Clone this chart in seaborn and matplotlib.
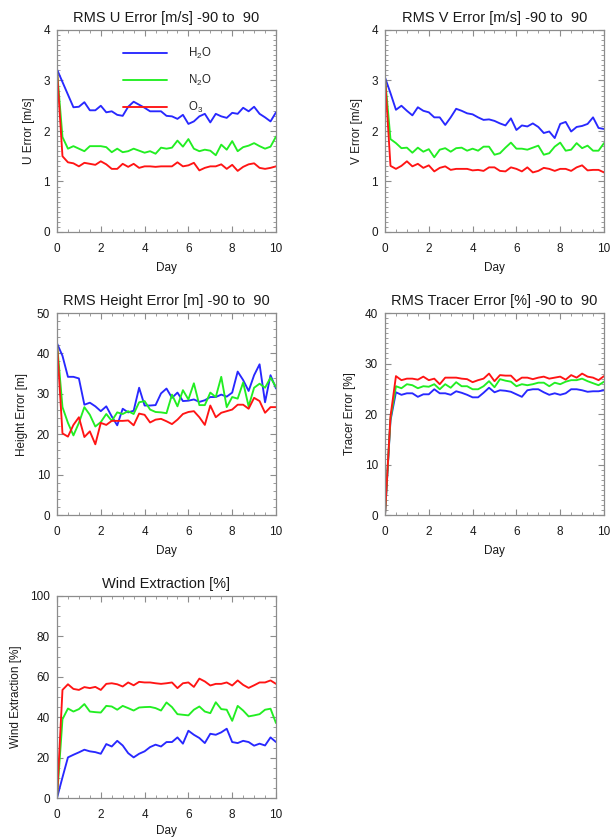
import numpy as np
import pandas as pd
import matplotlib
matplotlib.use("Agg")
import matplotlib.pyplot as plt
from matplotlib.ticker import MultipleLocator
import seaborn as sns

# ---------------- data ----------------
days = [0.0, 0.25, 0.5, 0.75, 1.0, 1.25, 1.5, 1.75, 2.0, 2.25, 2.5, 2.75, 3.0, 3.25,
        3.5, 3.75, 4.0, 4.25, 4.5, 4.75, 5.0, 5.25, 5.5, 5.75, 6.0, 6.25, 6.5, 6.75,
        7.0, 7.25, 7.5, 7.75, 8.0, 8.25, 8.5, 8.75, 9.0, 9.25, 9.5, 9.75, 10.0]

species = ["H2O", "N2O", "O3"]
species_labels = {"H2O": r"$\mathregular{H_2O}$", "N2O": r"$\mathregular{N_2O}$",
                  "O3": r"$\mathregular{O_3}$"}

u_h2o = [3.22, 2.97, 2.72, 2.47, 2.48, 2.57, 2.41, 2.41, 2.50, 2.37, 2.39, 2.32, 2.30, 2.48,
         2.58, 2.52, 2.46, 2.39, 2.39, 2.39, 2.30, 2.29, 2.24, 2.32, 2.14, 2.19, 2.29, 2.34,
         2.17, 2.34, 2.29, 2.26, 2.36, 2.34, 2.46, 2.39, 2.48, 2.34, 2.27, 2.19, 2.37]
u_n2o = [3.20, 1.88, 1.65, 1.70, 1.65, 1.60, 1.70, 1.70, 1.70, 1.68, 1.58, 1.65, 1.58, 1.60,
         1.65, 1.61, 1.57, 1.60, 1.55, 1.67, 1.65, 1.67, 1.81, 1.69, 1.84, 1.65, 1.60, 1.63,
         1.61, 1.52, 1.73, 1.63, 1.80, 1.60, 1.68, 1.71, 1.76, 1.70, 1.65, 1.69, 1.89]
u_o3 = [3.20, 1.50, 1.38, 1.36, 1.30, 1.37, 1.35, 1.33, 1.40, 1.34, 1.25, 1.25, 1.35, 1.29,
        1.35, 1.27, 1.30, 1.30, 1.29, 1.30, 1.30, 1.30, 1.38, 1.30, 1.32, 1.37, 1.22, 1.27,
        1.30, 1.30, 1.34, 1.25, 1.33, 1.21, 1.29, 1.34, 1.36, 1.27, 1.25, 1.27, 1.30]

v_h2o = [3.06, 2.75, 2.42, 2.50, 2.40, 2.31, 2.47, 2.40, 2.37, 2.27, 2.27, 2.12, 2.27, 2.44,
         2.40, 2.35, 2.33, 2.27, 2.22, 2.23, 2.20, 2.15, 2.11, 2.25, 2.02, 2.11, 2.09, 2.15,
         2.08, 1.96, 1.99, 1.86, 2.14, 2.18, 1.99, 2.08, 2.10, 2.14, 2.27, 2.06, 2.04]
v_n2o = [3.06, 1.84, 1.76, 1.66, 1.67, 1.57, 1.67, 1.59, 1.64, 1.48, 1.63, 1.66, 1.59, 1.66,
         1.67, 1.61, 1.65, 1.61, 1.69, 1.69, 1.53, 1.56, 1.67, 1.77, 1.65, 1.65, 1.63, 1.67,
         1.71, 1.53, 1.56, 1.69, 1.77, 1.61, 1.63, 1.76, 1.66, 1.71, 1.61, 1.61, 1.76]
v_o3 = [3.06, 1.31, 1.25, 1.31, 1.40, 1.30, 1.35, 1.27, 1.32, 1.20, 1.27, 1.30, 1.23, 1.25,
        1.25, 1.25, 1.22, 1.23, 1.21, 1.28, 1.28, 1.21, 1.20, 1.28, 1.25, 1.20, 1.28, 1.18,
        1.21, 1.27, 1.25, 1.21, 1.25, 1.25, 1.21, 1.28, 1.32, 1.22, 1.23, 1.23, 1.18]

h_h2o = [42.5, 39.4, 34.2, 34.2, 33.8, 27.3, 27.8, 26.9, 25.7, 26.9, 24.4, 22.2, 26.3, 25.4,
         25.8, 31.5, 27.1, 27.1, 27.2, 30.1, 31.3, 29.0, 30.3, 28.2, 28.3, 28.6, 28.0, 28.4,
         29.2, 29.2, 29.8, 29.3, 30.3, 35.5, 33.4, 30.7, 34.6, 37.3, 27.9, 34.6, 31.3]
h_n2o = [42.5, 26.7, 22.8, 19.7, 22.8, 26.7, 24.8, 21.9, 23.0, 25.0, 23.3, 25.4, 25.0, 25.7,
         25.0, 27.9, 28.2, 26.1, 25.5, 25.4, 25.2, 29.8, 26.9, 30.9, 28.6, 32.6, 27.2, 27.2,
         30.3, 29.2, 34.2, 26.7, 29.2, 28.8, 32.8, 26.9, 31.5, 32.5, 31.5, 34.0, 31.7]
h_o3 = [42.5, 20.2, 19.4, 22.3, 24.2, 19.3, 20.7, 17.5, 22.8, 22.3, 23.3, 23.3, 23.3, 23.4,
        22.2, 25.1, 24.8, 22.9, 23.6, 23.8, 23.2, 22.5, 23.6, 25.0, 25.5, 25.7, 24.2, 22.3,
        27.1, 24.2, 25.3, 25.7, 26.1, 27.3, 27.3, 26.3, 29.0, 28.2, 25.3, 26.7, 26.7]

t_h2o = [0.0, 18.7, 24.3, 23.8, 24.1, 24.1, 23.4, 23.9, 23.9, 24.9, 24.1, 24.1, 23.8, 24.5,
         24.2, 23.8, 23.3, 23.3, 24.2, 25.2, 24.3, 24.7, 24.6, 24.4, 23.9, 23.4, 24.7, 24.9,
         24.9, 24.3, 23.8, 24.1, 23.8, 24.1, 24.9, 24.9, 24.7, 24.4, 24.5, 24.5, 24.7]
t_n2o = [0.0, 19.0, 25.5, 25.1, 25.9, 25.7, 25.1, 25.5, 25.4, 25.9, 24.9, 25.9, 25.2, 26.3,
         25.5, 25.5, 24.9, 24.9, 25.5, 26.5, 25.3, 26.9, 26.6, 26.4, 25.5, 25.9, 25.7, 25.9,
         26.2, 26.2, 25.5, 26.2, 25.9, 26.4, 26.7, 26.7, 27.0, 26.5, 26.1, 25.7, 26.4]
t_o3 = [0.0, 19.5, 27.5, 26.7, 27.0, 27.0, 26.8, 27.4, 26.7, 27.0, 25.9, 27.2, 27.2, 27.2,
        27.0, 26.9, 26.3, 26.7, 27.0, 28.0, 26.5, 27.7, 27.6, 27.6, 26.5, 27.2, 27.2, 26.9,
        27.2, 27.4, 27.0, 27.2, 27.4, 26.8, 27.7, 27.2, 28.0, 27.4, 27.2, 26.7, 27.5]

w_h2o = [0.0, 10.2, 20.1, 21.4, 22.6, 23.9, 23.1, 22.7, 21.9, 26.7, 25.5, 28.3, 26.0, 22.2,
         20.1, 21.9, 23.1, 25.2, 26.4, 25.5, 27.7, 27.7, 30.0, 26.9, 33.3, 31.3, 29.7, 27.2,
         31.8, 31.3, 32.5, 34.3, 27.7, 27.2, 28.3, 27.7, 25.9, 26.9, 26.0, 30.0, 27.7]
w_n2o = [0.0, 39.0, 44.3, 42.8, 44.0, 46.5, 42.8, 42.5, 42.3, 45.6, 45.3, 43.7, 45.6, 44.5,
         43.3, 44.8, 45.0, 45.1, 44.5, 43.3, 47.3, 45.0, 41.5, 41.2, 40.9, 43.7, 45.3, 42.8,
         42.0, 47.4, 44.0, 43.7, 38.2, 45.6, 43.3, 40.4, 40.9, 41.5, 43.7, 44.2, 37.1]
w_o3 = [0.0, 53.5, 56.3, 54.0, 53.5, 54.9, 54.4, 55.0, 53.5, 56.5, 56.8, 56.3, 55.2, 57.2,
        55.8, 57.5, 57.2, 57.2, 56.8, 56.5, 56.8, 57.2, 54.4, 56.8, 57.2, 55.0, 59.1, 57.7,
        55.7, 56.5, 56.5, 57.2, 55.7, 58.2, 56.0, 54.5, 55.8, 57.2, 57.2, 58.2, 56.5]

titles = ["RMS U Error [m/s] -90 to  90", "RMS V Error [m/s] -90 to  90",
          "RMS Height Error [m] -90 to  90", "RMS Tracer Error [%] -90 to  90",
          "Wind Extraction [%]"]
ylabels = ["U Error [m/s]", "V Error [m/s]", "Height Error [m]", "Tracer Error [%]",
           "Wind Extraction [%]"]
xlabel = "Day"
ylims = [(0, 4), (0, 4), (0, 50), (0, 40), (0, 100)]
ymajor = [1, 1, 10, 10, 20]
yminor = [0.1, 0.1, 2, 1, 5]

panels = [(u_h2o, u_n2o, u_o3), (v_h2o, v_n2o, v_o3), (h_h2o, h_n2o, h_o3),
          (t_h2o, t_n2o, t_o3), (w_h2o, w_n2o, w_o3)]

palette = {"H2O": "#2828ff", "N2O": "#22ee22", "O3": "#ff1414"}

# ---------------- style ----------------
sns.set_theme(style="ticks")
plt.rcParams["font.family"] = ["Liberation Sans", "DejaVu Sans"]
plt.rcParams["mathtext.default"] = "regular"
plt.rcParams["axes.linewidth"] = 0.8

W, H = 611, 838
fig = plt.figure(figsize=(W / 100, H / 100), dpi=100)

lefts = [57, 385]
tops = [30, 313, 596]
aw, ah = 219, 202
positions = [(lefts[0], tops[0]), (lefts[1], tops[0]), (lefts[0], tops[1]),
             (lefts[1], tops[1]), (lefts[0], tops[2])]

edge = "#8c8c8c"
txt = "#1a1a1a"

for i, ((px, py), series) in enumerate(zip(positions, panels)):
    ax = fig.add_axes([px / W, 1 - (py + ah) / H, aw / W, ah / H])
    df = pd.DataFrame({
        "Day": days * 3,
        "value": list(series[0]) + list(series[1]) + list(series[2]),
        "species": ["H2O"] * len(days) + ["N2O"] * len(days) + ["O3"] * len(days),
    })
    sns.lineplot(data=df, x="Day", y="value", hue="species", hue_order=species,
                 palette=palette, linewidth=1.35, ax=ax, legend=(i == 0),
                 estimator=None, sort=False)
    ax.set_xlim(0, 10)
    ax.set_ylim(*ylims[i])
    ax.xaxis.set_major_locator(MultipleLocator(2))
    ax.xaxis.set_minor_locator(MultipleLocator(0.5))
    ax.yaxis.set_major_locator(MultipleLocator(ymajor[i]))
    ax.yaxis.set_minor_locator(MultipleLocator(yminor[i]))
    ax.tick_params(which="both", direction="in", top=True, right=True, color=edge,
                   labelcolor=txt, labelsize=8.5)
    ax.tick_params(which="major", length=4, width=0.8)
    ax.tick_params(which="minor", length=2, width=0.6)
    ax.tick_params(axis="x", which="major", pad=8)
    ax.tick_params(axis="y", which="major", pad=5)
    for s in ax.spines.values():
        s.set_color(edge)
        s.set_linewidth(0.9)
    ax.set_title(titles[i], fontsize=10.5, color=txt, pad=6)
    ax.set_xlabel(xlabel, fontsize=8.5, color=txt, labelpad=(2.5 if i == 4 else 5))
    ax.set_ylabel(ylabels[i], fontsize=8.5, color=txt, labelpad=6)
    if i == 0:
        handles, labels = ax.get_legend_handles_labels()
        ax.legend(handles, [species_labels[l] for l in labels], loc="center left",
                  bbox_to_anchor=(0.3, 0.75), frameon=False, fontsize=8.3,
                  handlelength=3.8, handletextpad=1.9, labelspacing=1.05,
                  borderpad=0, borderaxespad=0)

fig.savefig("out.png", dpi=100, facecolor="white")
